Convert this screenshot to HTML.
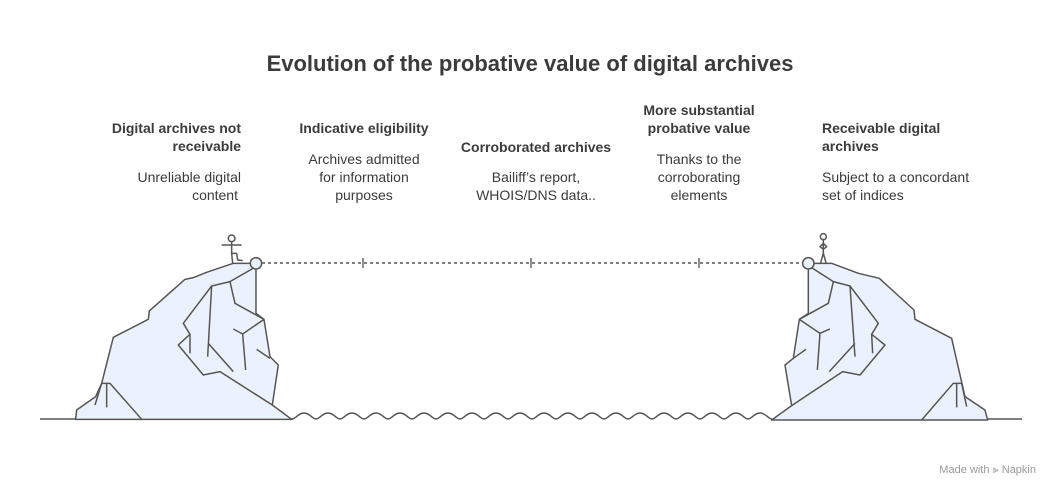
<!DOCTYPE html>
<html><head><meta charset="utf-8"><style>
html,body{margin:0;padding:0;background:#fff;}
svg{display:block;font-family:"Liberation Sans",sans-serif;}
.h{font-weight:bold;font-size:14px;fill:#3b3b3b;}
.d{font-size:14px;fill:#3b3b3b;}
</style></head><body>
<svg width="1060" height="497" viewBox="0 0 1060 497" xmlns="http://www.w3.org/2000/svg">
<text x="530" y="71" text-anchor="middle" font-weight="bold" font-size="22" fill="#3b3b3b">Evolution of the probative value of digital archives</text>

<g text-anchor="end"><text class="h" x="241" y="133">Digital archives not</text><text class="h" x="241" y="151">receivable</text>
<text class="d" x="241" y="182">Unreliable digital</text><text class="d" x="238" y="200">content</text></g>
<g text-anchor="middle"><text class="h" x="364" y="133">Indicative eligibility</text>
<text class="d" x="364" y="164">Archives admitted</text><text class="d" x="364" y="182">for information</text><text class="d" x="364" y="200">purposes</text>
<text class="h" x="536" y="152">Corroborated archives</text>
<text class="d" x="536" y="182">Bailiff’s report,</text><text class="d" x="536" y="200">WHOIS/DNS data..</text>
<text class="h" x="699" y="115">More substantial</text><text class="h" x="699" y="133">probative value</text>
<text class="d" x="699" y="164">Thanks to the</text><text class="d" x="699" y="182">corroborating</text><text class="d" x="699" y="200">elements</text></g>
<g><text class="h" x="822" y="133">Receivable digital</text><text class="h" x="822" y="151">archives</text>
<text class="d" x="822" y="182">Subject to a concordant</text><text class="d" x="822" y="200">set of indices</text></g>

<line x1="40" y1="419" x2="1022" y2="419" stroke="#555" stroke-width="1.5"/>
<rect x="293" y="417" width="482" height="4" fill="#fff"/>
<g fill="none" stroke="#555" stroke-width="1.4">
<path d="M292 419 c4 0 6 -6 12 -6 s8 6 12 6 c4 0 6 -6 12 -6 s8 6 12 6 c4 0 6 -6 12 -6 s8 6 12 6 c4 0 6 -6 12 -6 s8 6 12 6 c4 0 6 -6 12 -6 s8 6 12 6 c4 0 6 -6 12 -6 s8 6 12 6 c4 0 6 -6 12 -6 s8 6 12 6 c4 0 6 -6 12 -6 s8 6 12 6 c4 0 6 -6 12 -6 s8 6 12 6 c4 0 6 -6 12 -6 s8 6 12 6 c4 0 6 -6 12 -6 s8 6 12 6 c4 0 6 -6 12 -6 s8 6 12 6 c4 0 6 -6 12 -6 s8 6 12 6 c4 0 6 -6 12 -6 s8 6 12 6 c4 0 6 -6 12 -6 s8 6 12 6 c4 0 6 -6 12 -6 s8 6 12 6 c4 0 6 -6 12 -6 s8 6 12 6 c4 0 6 -6 12 -6 s8 6 12 6 c4 0 6 -6 12 -6 s8 6 12 6 c4 0 6 -6 12 -6 s8 6 12 6"/>
</g>

<line x1="262" y1="263" x2="801" y2="263" stroke="#555" stroke-width="1.5" stroke-dasharray="3 3"/>
<g stroke="#555" stroke-width="1.3"><line x1="363" y1="258" x2="363" y2="268"/><line x1="531" y1="258" x2="531" y2="268"/><line x1="699" y1="258" x2="699" y2="268"/></g>

<g transform="translate(60,230) scale(0.3333)" stroke="#555" stroke-width="4.5" stroke-linejoin="round" fill="none">
<path d="M47 568 L50 540 L107 500 L125 460 L160 322 L265 268 L268 243 L375 148 L400 143 L440 127 L520 100 L588 100 L588 250 L612 268 L630 380 L655 405 L637 525 L695 568 Z" fill="#ecf2fd"/>
<path d="M585 112 L510 155 L455 168 L370 280 L390 313 L355 345 L430 435 L480 425 L637 525"/>
<path d="M455 168 L443 380 M510 155 L525 220 L612 268 M520 297 L548 312 L612 268 M548 312 L557 420 M445 340 L520 425 M390 313 L390 370 M590 358 L630 385 M105 525 L125 460 L150 460 L245 568 M140 460 L140 532"/>
<circle cx="588" cy="100" r="17" fill="#ecf2fd"/>
<circle cx="515" cy="25" r="10" fill="#fff"/>
<path d="M515 35 L515 70 L518 100 M485 45 L545 45 M515 70 L530 70 L533 90 L548 92"/>
</g>

<g transform="translate(760,230) scale(0.3333)" stroke="#555" stroke-width="4.5" stroke-linejoin="round" fill="none">
<path d="M35 570 L95 527 L75 405 L100 385 L118 268 L145 250 L145 100 L215 100 L295 130 L358 145 L462 240 L465 268 L575 325 L615 500 L675 540 L683 570 Z" fill="#ecf2fd"/>
<path d="M150 110 L220 155 L270 168 L355 280 L335 313 L375 345 L300 435 L248 425 L95 527"/>
<path d="M220 155 L205 220 L118 268 M270 168 L285 380 M118 268 L180 310 L210 297 M180 310 L172 420 M285 340 L208 425 M335 313 L338 370 M100 385 L138 358 M485 570 L580 460 L605 460 L620 530 M590 460 L590 532"/>
<circle cx="145" cy="100" r="17" fill="#ecf2fd"/>
<circle cx="190" cy="20" r="9" fill="#fff"/>
<path d="M190 29 L190 70 M190 40 L180 50 L190 58 M190 40 L200 50 L190 58 M190 70 L182 98 M190 70 L198 98"/>
</g>

<text x="1036" y="473" text-anchor="end" font-size="11" fill="#999">Made with ⫸ Napkin</text>
</svg>
</body></html>
